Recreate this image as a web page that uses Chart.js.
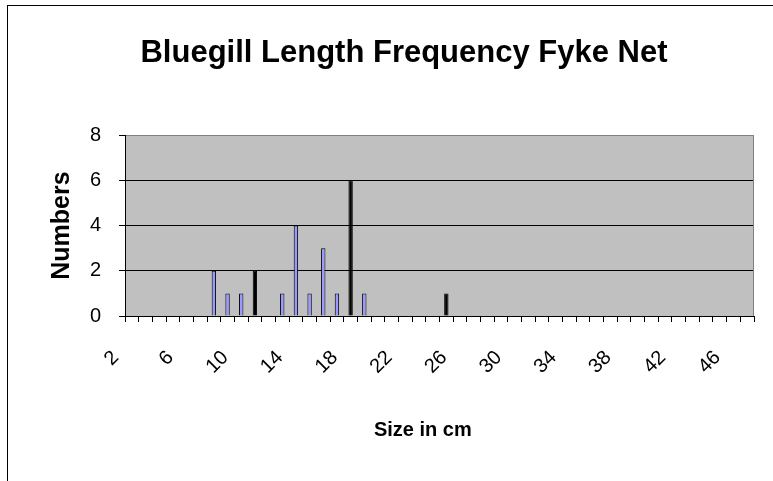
<!DOCTYPE html>
<html>
<head>
<meta charset="utf-8">
<script src="https://cdn.jsdelivr.net/npm/chart.js@4.4.0/dist/chart.umd.min.js"></script>
<style>
  body { margin: 0; background: #fff; }
  #wrap { width: 773px; height: 481px; }
</style>
</head>
<body>
<div id="wrap"><canvas id="myChart" width="773" height="481"></canvas></div>
<script>
// chart data
const sizes = [2, 3, 4, 5, 6, 7, 8, 9, 10, 11, 12, 13, 14, 15, 16, 17, 18, 19, 20, 21, 22, 23, 24,
  25, 26, 27, 28, 29, 30, 31, 32, 33, 34, 35, 36, 37, 38, 39, 40, 41, 42, 43, 44, 45, 46, 47];
const numbers = [0, 0, 0, 0, 0, 0, 2, 1, 1, 2, 0, 1, 4, 1, 3, 1, 6, 1, 0, 0, 0, 0, 0,
  1, 0, 0, 0, 0, 0, 0, 0, 0, 0, 0, 0, 0, 0, 0, 0, 0, 0, 0, 0, 0, 0, 0];
const yTicks = [0, 2, 4, 6, 8];

Chart.defaults.color = "#000";
Chart.defaults.font.family = "'Liberation Sans', Arial, sans-serif";

// grey plot area + outer frame
const plotBg = {
  id: "plotBg",
  beforeDraw(chart) {
    const { ctx, chartArea: a } = chart;
    ctx.save();
    ctx.fillStyle = "#fff";
    ctx.fillRect(0, 0, chart.width, chart.height);
    ctx.strokeStyle = "#000";
    ctx.lineWidth = 1;
    ctx.strokeRect(7.5, 5.5, chart.width + 10, chart.height + 10);
    ctx.fillStyle = "#C0C0C0";
    ctx.fillRect(a.left, a.top, a.right - a.left, a.bottom - a.top);
    ctx.restore();
  },
  beforeDatasetsDraw(chart) {
    const { ctx, chartArea: a } = chart;
    ctx.save();
    ctx.strokeStyle = "#808080";
    ctx.lineWidth = 1;
    ctx.beginPath();
    ctx.moveTo(a.right - 0.5, a.top);
    ctx.lineTo(a.right - 0.5, a.bottom);
    ctx.stroke();
    ctx.restore();
  },
};

var ctx = document.getElementById("myChart").getContext("2d");
var myChart = new Chart(ctx, {
  type: "bar",
  data: {
    labels: sizes,
    datasets: [
      {
        label: "Numbers",
        data: numbers,
        // every 7th bar renders solid black in the original (pixel rounding)
        backgroundColor: (c) => (c.dataIndex % 7 === 2 ? "#000" : "#9999FF"),
        borderColor: "#000",
        borderWidth: 1,
        barPercentage: 0.32,
        categoryPercentage: 1,
      },
    ],
  },
  options: {
    responsive: false,
    animation: false,
    layout: {
      padding: { left: 54, right: 19, top: 0, bottom: 0 },
    },
    plugins: {
      legend: { display: false },
      tooltip: { enabled: false },
      title: {
        display: true,
        text: "Bluegill Length Frequency Fyke Net",
        font: { size: 31, weight: "bold" },
        color: "#000",
        padding: { top: 35, bottom: 63 },
      },
    },
    scales: {
      x: {
        afterFit: function (scale) {
          scale.height = 165;
          scale.paddingLeft = 0;
          scale.paddingRight = 0;
        },
        grid: {
          drawOnChartArea: false,
          drawTicks: true,
          tickLength: 6,
          tickColor: "#000",
          offset: true,
        },
        border: { display: true, color: "#000", width: 1 },
        ticks: {
          autoSkip: false,
          maxRotation: 45,
          minRotation: 45,
          padding: 24,
          labelOffset: -16,
          font: { size: 20 },
          callback: function (value, index) {
            return index % 4 === 0 ? String(sizes[index]) : "";
          },
        },
        title: {
          display: true,
          text: "Size in cm\u00a0\u00a0\u00a0\u00a0\u00a0\u00a0",
          font: { size: 20, weight: "bold" },
          padding: { top: 0, bottom: 39 },
        },
      },
      y: {
        min: 0,
        max: 8,
        afterFit: function (scale) {
          scale.width = 71;
        },
        afterBuildTicks: function (scale) {
          scale.ticks = yTicks.map((v) => ({ value: v }));
        },
        grid: {
          color: (c) => (c.tick && c.tick.value === 8 ? "#808080" : "#000"),
          tickColor: "#000",
          tickLength: 6,
          lineWidth: 1,
        },
        border: { display: true, color: "#000", width: 1 },
        ticks: {
          padding: 18,
          font: { size: 20 },
        },
        title: {
          display: true,
          text: "Numbers",
          font: { size: 25, weight: "bold", lineHeight: 1 },
          padding: { top: -4, bottom: 0 },
        },
      },
    },
  },
  plugins: [plotBg],
});
</script>
</body>
</html>
